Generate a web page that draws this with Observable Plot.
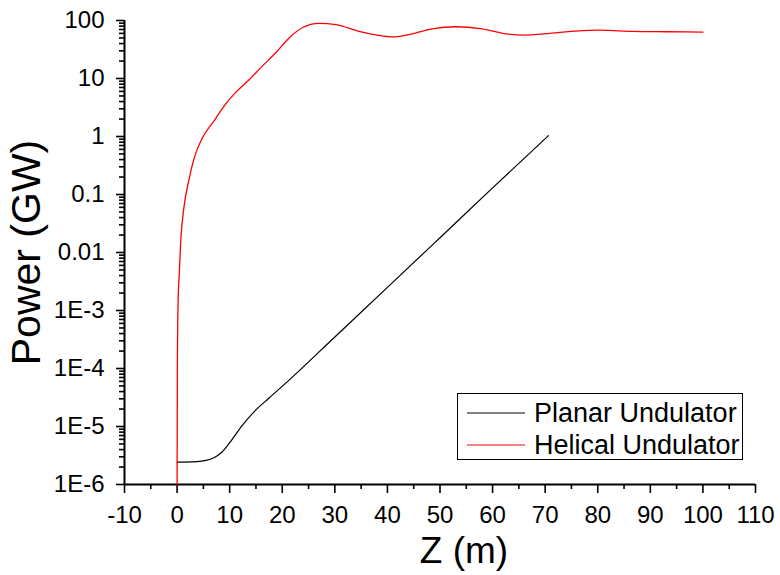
<!DOCTYPE html>
<html>
<head>
<meta charset="utf-8">
<script src="https://cdn.jsdelivr.net/npm/d3@7"></script>
<script src="https://cdn.jsdelivr.net/npm/@observablehq/plot@0.6"></script>
<style>
  body { margin: 0; background: #fff; }
  #wrap { position: relative; width: 780px; height: 575px; font-family: "Liberation Sans", Arial, sans-serif; }
  #legend { position: absolute; left: 457px; top: 393px; width: 284px; height: 65px;
            border: 1px solid #000; background: #fff; }
  .row { position: absolute; left: 0; height: 30px; display: flex; align-items: center; }
  .row svg { margin-left: 9px; }
  .row span { margin-left: 9px; font-size: 27px; color: #000; white-space: nowrap; }
</style>
</head>
<body>
<div id="wrap"></div>
<script>
// Planar undulator: power along the undulator
const planarZ = [0, 3, 5.5, 7, 8.5, 9.9, 12.4, 14.9, 17.5, 21.3, 30, 40, 50, 60, 70.6];
const planarP = [2.43e-6, 2.45e-6, 2.6e-6, 2.9e-6, 3.6e-6, 5.1e-6, 1.05e-5, 1.9e-5, 3.1e-5, 6.3e-5,
                 3.5e-4, 2.5e-3, 0.018, 0.13, 1.03];

// Helical undulator: power along the undulator
const helicalZ = [0, 0.05, 0.2, 0.4, 0.7, 1.3, 2.2, 3.3, 4.9, 7.1, 9, 11.1, 13.7, 16.1, 18.8,
                  21.3, 23.8, 27, 30.2, 34.6, 38, 41, 44, 48.5, 53, 58, 63, 66.3, 72, 77, 80.3,
                  86.7, 93, 100];
const helicalP = [1e-6, 1e-4, 1.5e-3, 4e-3, 0.016, 0.06, 0.17, 0.44, 0.98, 1.9, 3.4, 5.7, 9.5, 16, 28,
                  50, 75, 89, 85, 65, 56, 52, 57, 72, 78, 72, 58, 56, 61, 67, 68,
                  65, 64, 63];

const seriesNames = ["Planar Undulator", "Helical Undulator"];
const seriesColors = ["#000000", "#ff0000"];

// Axis ticks
const xTicks = [-10, 0, 10, 20, 30, 40, 50, 60, 70, 80, 90, 100, 110];
const xMinorTicks = [-5, 5, 15, 25, 35, 45, 55, 65, 75, 85, 95, 105];
const yTicks = [1e-6, 1e-5, 1e-4, 1e-3, 0.01, 0.1, 1, 10, 100];
const yTickLabels = ["1E-6", "1E-5", "1E-4", "1E-3", "0.01", "0.1", "1", "10", "100"];
const yMinorTicks = yTicks.slice(0, -1).flatMap(d => [2, 3, 4, 5, 6, 7, 8, 9].map(k => d * k));

const planar = planarZ.map((z, i) => ({z, p: planarP[i]}));
const helical = helicalZ.map((z, i) => ({z, p: helicalP[i]}));

const chart = Plot.plot({
  width: 780,
  height: 575,
  marginLeft: 124,
  marginRight: 25,
  marginTop: 20,
  marginBottom: 91,
  x: {domain: [-10, 110]},
  y: {type: "log", domain: [1e-6, 100]},
  style: {fontFamily: "'Liberation Sans', Arial, sans-serif", fontSize: "24px", color: "#000", background: "#fff"},
  marks: [
    Plot.axisX({ticks: xMinorTicks, tickSize: 5, tickFormat: () => "", label: null, strokeWidth: 1.6}),
    Plot.axisX({ticks: xTicks, tickSize: 9, tickPadding: 12, label: null, fontSize: 24, strokeWidth: 1.6,
                tickFormat: d => String(d)}),
    Plot.axisY({ticks: yMinorTicks, tickSize: 5, tickFormat: () => "", label: null, strokeWidth: 1.6}),
    Plot.axisY({ticks: yTicks, tickSize: 8, tickPadding: 12, label: null, fontSize: 24, strokeWidth: 1.6,
                tickFormat: d => yTickLabels[yTicks.indexOf(d)]}),
    Plot.ruleX([-10], {strokeWidth: 2}),
    Plot.ruleY([1e-6], {strokeWidth: 2}),
    Plot.line(planar, {x: "z", y: "p", stroke: seriesColors[0], strokeWidth: 1.2, curve: "monotone-x"}),
    Plot.line(helical, {x: "z", y: "p", stroke: seriesColors[1], strokeWidth: 1.3, curve: "monotone-x"}),
    Plot.text(["Z (m)"], {frameAnchor: "bottom", textAnchor: "middle", lineAnchor: "middle",
                          dx: 24, dy: 67, fontSize: 37, text: d => d}),
    Plot.text(["Power (GW)"], {frameAnchor: "left", textAnchor: "middle", lineAnchor: "middle",
                               dx: -98, rotate: -90, fontSize: 41, text: d => d})
  ]
});

const wrap = document.getElementById("wrap");
wrap.appendChild(chart);

// Legend box drawn over the plot area
const legend = document.createElement("div");
legend.id = "legend";
seriesNames.forEach((name, i) => {
  const row = document.createElement("div");
  row.className = "row";
  row.style.top = (4 + i * 32) + "px";
  row.innerHTML = `<svg width="58" height="4"><line x1="0" x2="58" y1="2" y2="2" stroke="${seriesColors[i]}" stroke-width="1"/></svg><span>${name}</span>`;
  legend.appendChild(row);
});
wrap.appendChild(legend);
</script>
</body>
</html>
